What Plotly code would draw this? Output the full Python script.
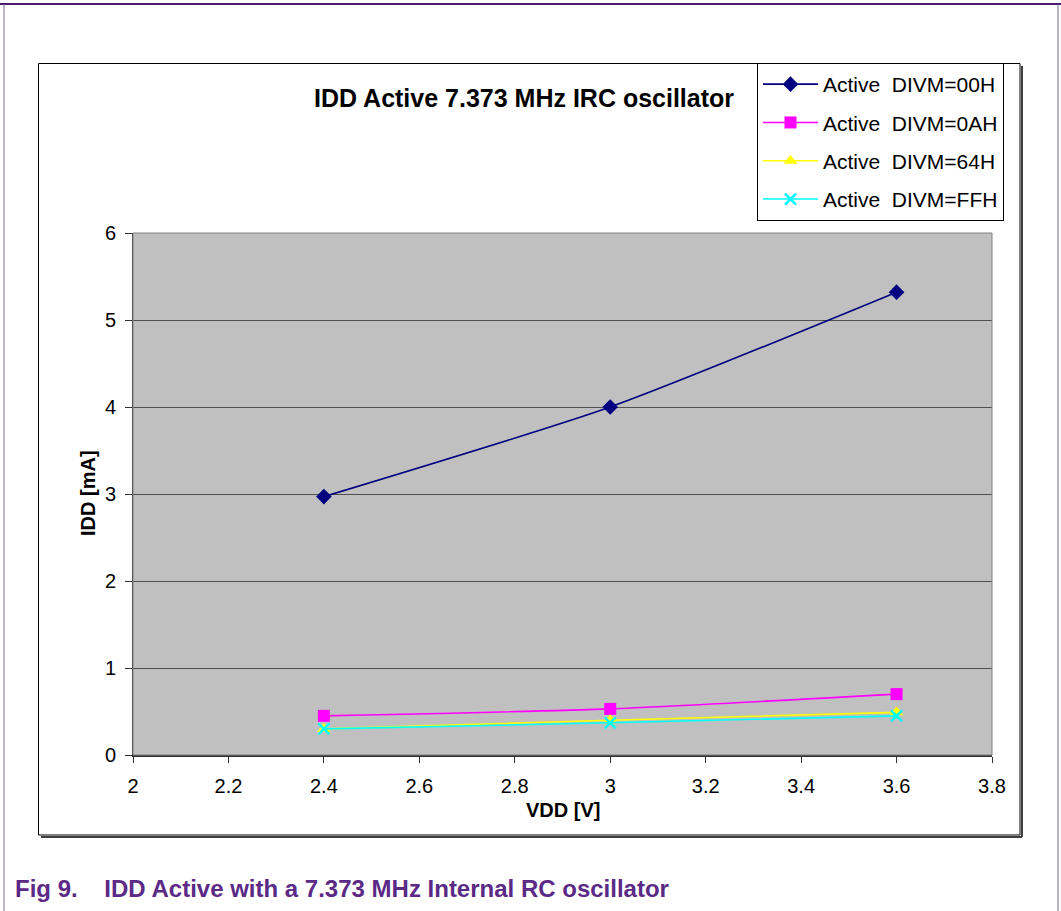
import plotly.graph_objects as go

# Supply voltage sweep and measured active current per DIVM setting
vdd = [2.4, 3.0, 3.6]
idd_divm_00h = [2.97, 4.00, 5.32]
idd_divm_0ah = [0.45, 0.53, 0.70]
idd_divm_64h = [0.30, 0.40, 0.49]
idd_divm_ffh = [0.30, 0.37, 0.45]

series_names = [
    "Active\u00a0 DIVM=00H",
    "Active\u00a0 DIVM=0AH",
    "Active\u00a0 DIVM=64H",
    "Active\u00a0 DIVM=FFH",
]
x_ticks = [2.0, 2.2, 2.4, 2.6, 2.8, 3.0, 3.2, 3.4, 3.6, 3.8]
x_tick_labels = ["2", "2.2", "2.4", "2.6", "2.8", "3", "3.2", "3.4", "3.6", "3.8"]
y_ticks = [0, 1, 2, 3, 4, 5, 6]

W, H = 1061, 911
ML, MR, MT, MB = 133, 69, 233, 156
PW, PH = W - ML - MR, H - MT - MB

FONT = "Liberation Sans, Arial, sans-serif"


def px(x):
    return (x - ML) / PW


def py(y):
    return (H - MB - y) / PH


styles = [
    dict(color="#000080", symbol="diamond", size=12),
    dict(color="#FF00FF", symbol="square", size=12),
    dict(color="#FFFF00", symbol="triangle-up", size=12),
    dict(color="#00FFFF", symbol="x-thin", size=11),
]
values = [idd_divm_00h, idd_divm_0ah, idd_divm_64h, idd_divm_ffh]

fig = go.Figure()
for i, (name, ys, st) in enumerate(zip(series_names, values, styles)):
    marker = dict(color=st["color"], symbol=st["symbol"], size=st["size"])
    if st["symbol"] == "x-thin":
        marker["line"] = dict(color=st["color"], width=2.5)
    fig.add_trace(go.Scatter(
        x=vdd, y=ys, name=name, mode="lines+markers",
        line=dict(color=st["color"], width=1.6, shape="spline", smoothing=0.6),
        marker=marker, legendgroup=f"g{i}",
    ))

shapes = [
    # page frame
    dict(type="line", xref="paper", yref="paper", x0=px(0), x1=px(W), y0=py(4), y1=py(4),
         line=dict(color="#4a1a70", width=2), layer="below"),
    dict(type="line", xref="paper", yref="paper", x0=px(4), x1=px(4), y0=py(4), y1=py(H),
         line=dict(color="#7a6a96", width=1), layer="below"),
    dict(type="line", xref="paper", yref="paper", x0=px(1058), x1=px(1058), y0=py(4), y1=py(H),
         line=dict(color="#7a6a96", width=1), layer="below"),
    # chart frame with drop shadow
    dict(type="line", xref="paper", yref="paper", x0=px(1022), x1=px(1022), y0=py(66), y1=py(837),
         line=dict(color="#404040", width=2), layer="below"),
    dict(type="line", xref="paper", yref="paper", x0=px(41), x1=px(1022), y0=py(837), y1=py(837),
         line=dict(color="#404040", width=2), layer="below"),
    dict(type="rect", xref="paper", yref="paper", x0=px(38.5), x1=px(1020), y0=py(63.5), y1=py(835),
         line=dict(color="#000000", width=1), layer="below"),
    # plot area border
    dict(type="rect", xref="paper", yref="paper", x0=0, x1=1, y0=0, y1=1,
         line=dict(color="#808080", width=1), layer="above"),
]

annotations = [
    dict(text="<b>IDD Active 7.373 MHz IRC oscillator</b>", xref="paper", yref="paper",
         x=px(524), y=py(98), xanchor="center", yanchor="middle", showarrow=False,
         font=dict(family=FONT, size=25, color="#000000")),
    dict(text="<b>VDD [V]</b>", xref="paper", yref="paper",
         x=px(563), y=py(810), xanchor="center", yanchor="middle", showarrow=False,
         font=dict(family=FONT, size=20, color="#000000")),
    dict(text="<b>IDD [mA]</b>", xref="paper", yref="paper", textangle=-90,
         x=px(88), y=py(493), xanchor="center", yanchor="middle", showarrow=False,
         font=dict(family=FONT, size=20, color="#000000")),
    dict(text="<b>Fig 9.\u00a0\u00a0\u00a0\u00a0IDD Active with a 7.373 MHz Internal RC oscillator</b>",
         xref="paper", yref="paper", x=px(13), y=py(888), xanchor="left", yanchor="middle",
         showarrow=False, font=dict(family=FONT, size=24, color="#5b2a86")),
]

fig.update_layout(
    width=W, height=H,
    margin=dict(l=ML, r=MR, t=MT, b=MB, autoexpand=False),
    paper_bgcolor="#FFFFFF",
    plot_bgcolor="#C0C0C0",
    font=dict(family=FONT, size=20, color="#000000"),
    showlegend=True,
    legend=dict(
        x=px(757), y=py(63), xanchor="left", yanchor="top",
        bgcolor="#FFFFFF", bordercolor="#000000", borderwidth=1,
        font=dict(family=FONT, size=21, color="#000000"),
        traceorder="grouped", tracegroupgap=8, itemwidth=55,
    ),
    xaxis=dict(
        range=[2.0, 3.8], tickvals=x_ticks, ticktext=x_tick_labels,
        showgrid=False, zeroline=False, showline=True, linecolor="#303030", linewidth=2,
        ticks="outside", ticklen=6, tickcolor="#303030", tickwidth=1,
        ticklabelstandoff=6,
        tickfont=dict(family=FONT, size=20), fixedrange=True,
    ),
    yaxis=dict(
        range=[0, 6], tickvals=y_ticks,
        showgrid=True, gridcolor="#505050", gridwidth=1,
        zeroline=False, showline=True, linecolor="#303030", linewidth=1,
        ticks="outside", ticklen=7, tickcolor="#303030", tickwidth=1,
        ticklabelstandoff=5,
        tickfont=dict(family=FONT, size=20), fixedrange=True,
    ),
    shapes=shapes,
    annotations=annotations,
)

fig.write_html("out.html")
